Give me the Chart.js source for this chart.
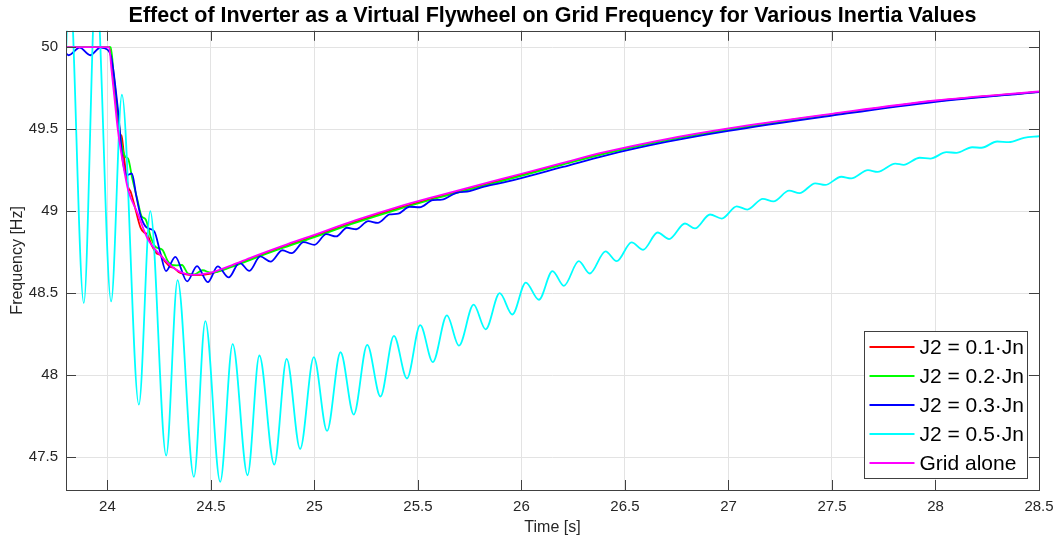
<!DOCTYPE html>
<html lang="en">
<head>
<meta charset="UTF-8">
<title>Virtual Flywheel - Grid Frequency</title>
<script src="https://cdn.jsdelivr.net/npm/chart.js"></script>
<style>
  html, body { margin: 0; padding: 0; background: #fff; }
  #wrap { width: 1057px; height: 539px; }
</style>
</head>
<body>
<div id="wrap"><canvas id="freqChart" width="1057" height="539"></canvas></div>
<script>
// Simulated grid frequency after the load step, one run per inertia value
const tJ01 = [23.8, 24.0, 24.01, 24.03, 24.05, 24.058, 24.068, 24.085, 24.1, 24.112, 24.13, 24.16, 24.178, 24.192, 24.215, 24.24, 24.255, 24.28, 24.305, 24.32, 24.35, 24.38, 24.42, 24.5, 24.6, 24.7, 24.85, 25.0, 25.2, 25.4, 25.6, 25.9, 26.2, 26.4, 26.7, 27.0, 27.5, 28.0, 28.5];
const fJ01 = [50, 50, 50, 49.78, 49.55, 49.47, 49.46, 49.28, 49.15, 49.12, 49.04, 48.90, 48.87, 48.86, 48.79, 48.74, 48.735, 48.69, 48.66, 48.655, 48.625, 48.615, 48.61, 48.62, 48.665, 48.714, 48.783, 48.848, 48.937, 49.017, 49.088, 49.188, 49.289, 49.354, 49.435, 49.5, 49.59, 49.672, 49.728];

const tJ02 = [23.8, 24.0, 24.016, 24.03, 24.05, 24.07, 24.088, 24.1, 24.12, 24.145, 24.165, 24.185, 24.21, 24.235, 24.265, 24.29, 24.31, 24.335, 24.36, 24.39, 24.42, 24.46, 24.5, 24.6, 24.7, 24.85, 25.0, 25.2, 25.4, 25.6, 25.9, 26.2, 26.4, 26.7, 27.0, 27.5, 28.0, 28.5];
const fJ02 = [50, 50, 50, 49.84, 49.6, 49.4, 49.33, 49.32, 49.2, 49.07, 48.97, 48.95, 48.84, 48.78, 48.765, 48.7, 48.672, 48.67, 48.672, 48.62, 48.615, 48.64, 48.625, 48.66, 48.708, 48.777, 48.842, 48.93, 49.01, 49.082, 49.182, 49.284, 49.35, 49.432, 49.498, 49.589, 49.671, 49.728];

const tJ03 = [23.8, 23.813, 23.866, 23.917, 23.966, 24.0, 24.02, 24.05, 24.075, 24.095, 24.118, 24.14, 24.161, 24.19, 24.226, 24.255, 24.283, 24.328, 24.385, 24.433, 24.485, 24.533, 24.586, 24.638, 24.686, 24.738, 24.788, 24.845, 24.89, 24.948, 25.0, 25.057, 25.105, 25.157, 25.202, 25.26, 25.306, 25.363, 25.405, 25.46, 25.508, 25.572, 25.615, 25.686, 25.75, 25.82, 25.93, 26.2, 26.4, 26.7, 27.0, 27.5, 28.0, 28.5];
const fJ03 = [49.962, 49.951, 49.997, 49.951, 49.998, 49.985, 49.93, 49.63, 49.30, 49.22, 49.23, 49.09, 48.97, 48.9, 48.878, 48.75, 48.635, 48.722, 48.572, 48.665, 48.567, 48.663, 48.596, 48.687, 48.636, 48.724, 48.692, 48.762, 48.744, 48.811, 48.795, 48.86, 48.846, 48.899, 48.89, 48.939, 48.929, 48.98, 48.985, 49.027, 49.024, 49.067, 49.07, 49.112, 49.122, 49.15, 49.18, 49.27, 49.338, 49.422, 49.49, 49.583, 49.667, 49.726];

const tJ05 = [23.8, 23.815, 23.886, 23.945, 24.018, 24.070, 24.152, 24.207, 24.284, 24.339, 24.418, 24.473, 24.545, 24.605, 24.677, 24.734, 24.806, 24.866, 24.931, 24.997, 25.061, 25.126, 25.190, 25.255, 25.319, 25.384, 25.447, 25.511, 25.572, 25.640, 25.698, 25.769, 25.827, 25.895, 25.956, 26.021, 26.084, 26.150, 26.205, 26.277, 26.330, 26.406, 26.460, 26.532, 26.588, 26.658, 26.713, 26.790, 26.838, 26.911, 26.968, 27.040, 27.091, 27.166, 27.217, 27.293, 27.343, 27.419, 27.467, 27.545, 27.593, 27.674, 27.720, 27.806, 27.846, 27.924, 27.975, 28.053, 28.101, 28.177, 28.222, 28.298, 28.354, 28.427, 28.5];
const fJ05 = [49.95, 50.45, 48.44, 50.40, 48.45, 49.71, 47.82, 49.00, 47.51, 48.58, 47.38, 48.33, 47.35, 48.19, 47.39, 48.12, 47.455, 48.10, 47.55, 48.11, 47.66, 48.14, 47.76, 48.185, 47.87, 48.24, 47.98, 48.305, 48.08, 48.365, 48.18, 48.43, 48.28, 48.50, 48.37, 48.565, 48.46, 48.635, 48.545, 48.695, 48.62, 48.755, 48.695, 48.81, 48.765, 48.87, 48.83, 48.925, 48.895, 48.98, 48.955, 49.03, 49.01, 49.075, 49.06, 49.125, 49.11, 49.17, 49.16, 49.21, 49.20, 49.25, 49.24, 49.29, 49.283, 49.326, 49.321, 49.36, 49.356, 49.39, 49.387, 49.425, 49.421, 49.447, 49.457];

const tGrid = [23.8, 24.0, 24.008, 24.02, 24.035, 24.05, 24.07, 24.1, 24.145, 24.195, 24.25, 24.33, 24.42, 24.5, 24.6, 24.7, 24.85, 25.0, 25.2, 25.4, 25.6, 25.9, 26.2, 26.4, 26.7, 27.0, 27.5, 28.0, 28.5];
const fGrid = [50, 50, 50, 49.86, 49.68, 49.5, 49.33, 49.13, 48.99, 48.83, 48.74, 48.645, 48.612, 48.625, 48.67, 48.72, 48.79, 48.856, 48.945, 49.025, 49.095, 49.195, 49.295, 49.36, 49.44, 49.505, 49.594, 49.675, 49.73];

const seriesLabels = ['J2 = 0.1·Jn', 'J2 = 0.2·Jn', 'J2 = 0.3·Jn', 'J2 = 0.5·Jn', 'Grid alone'];
const seriesColors = ['#ff0000', '#00ff00', '#0000ff', '#00ffff', '#ff00ff'];
const seriesTimes = [tJ01, tJ02, tJ03, tJ05, tGrid];
const seriesFreqs = [fJ01, fJ02, fJ03, fJ05, fGrid];

const axisColor = '#404040';
const textColor = '#262626';

Chart.defaults.font.family = "'Liberation Sans', Arial, Helvetica, sans-serif";

// 50.0 -> "50", 24.50 -> "24.5"
const plainNumber = v => String(Number(v.toFixed(2)));

// axes box with inward ticks on all four sides, then the boxed legend
const axesFrame = {
    id: 'axesFrame',
    afterDatasetsDraw(chart) {
        const { ctx, chartArea: a, scales } = chart;
        const len = 10;
        ctx.save();
        ctx.strokeStyle = axisColor;
        ctx.lineWidth = 1;
        ctx.beginPath();
        scales.x.ticks.forEach(t => {
            const px = Math.round(scales.x.getPixelForValue(t.value)) + 0.5;
            ctx.moveTo(px, a.bottom); ctx.lineTo(px, a.bottom - len);
            ctx.moveTo(px, a.top); ctx.lineTo(px, a.top + len);
        });
        scales.y.ticks.forEach(t => {
            const py = Math.round(scales.y.getPixelForValue(t.value)) + 0.5;
            ctx.moveTo(a.left, py); ctx.lineTo(a.left + len, py);
            ctx.moveTo(a.right, py); ctx.lineTo(a.right - len, py);
        });
        ctx.stroke();
        ctx.strokeRect(Math.round(a.left) + 0.5, Math.round(a.top) + 0.5,
            Math.round(a.right - a.left), Math.round(a.bottom - a.top));

        // legend, south-east corner
        const rowH = 29, lineLen = 45;
        ctx.font = "21px 'Liberation Sans', Arial, sans-serif";
        const textW = Math.max(...seriesLabels.map(s => ctx.measureText(s).width));
        const w = Math.round(5 + lineLen + 5 + textW + 4);
        const h = rowH * seriesLabels.length + 2;
        const x0 = Math.round(a.right - 12 - w) + 0.5;
        const y0 = Math.round(a.bottom - 12 - h) + 0.5;
        ctx.fillStyle = '#fff';
        ctx.fillRect(x0, y0, w, h);
        ctx.strokeStyle = axisColor;
        ctx.strokeRect(x0, y0, w, h);
        ctx.textBaseline = 'middle';
        seriesLabels.forEach((lab, i) => {
            const cy = y0 + 1 + rowH * i + rowH / 2;
            ctx.strokeStyle = seriesColors[i];
            ctx.lineWidth = 1.8;
            ctx.beginPath();
            ctx.moveTo(x0 + 5, cy); ctx.lineTo(x0 + 5 + lineLen, cy);
            ctx.stroke();
            ctx.fillStyle = '#000';
            ctx.fillText(lab, x0 + 5 + lineLen + 5, cy + 1);
        });
        ctx.restore();
    }
};

new Chart(document.getElementById('freqChart'), {
    type: 'line',
    data: {
        datasets: seriesLabels.map((label, i) => ({
            label,
            data: seriesTimes[i].map((t, k) => ({ x: t, y: seriesFreqs[i][k] })),
            borderColor: seriesColors[i],
            // later runs sit on top, grid-only trace topmost
            order: seriesLabels.length - i
        }))
    },
    options: {
        responsive: false,
        animation: false,
        layout: { padding: { right: 18 } },
        elements: {
            point: { radius: 0 },
            line: { borderWidth: 1.8, cubicInterpolationMode: 'monotone', fill: false }
        },
        scales: {
            x: {
                type: 'linear',
                min: 23.8,
                max: 28.5,
                // fixed band under the axes; let the last tick label hang into the margin
                afterFit: s => { s.height = 49; s.paddingRight = 0; s.paddingLeft = 0; },
                border: { display: false },
                grid: { color: '#e3e3e3', drawTicks: false },
                ticks: { stepSize: 0.5, includeBounds: false, autoSkip: false, maxRotation: 0,
                         padding: 8, color: textColor, font: { size: 15 }, callback: plainNumber },
                title: { display: true, text: 'Time [s]', color: textColor,
                         font: { size: 16 }, padding: { top: 2, bottom: 2 } }
            },
            y: {
                min: 47.3,
                max: 50.1,
                afterFit: s => { s.width = 66; },
                border: { display: false },
                grid: { color: '#e3e3e3', drawTicks: false },
                ticks: { stepSize: 0.5, includeBounds: false, autoSkip: false,
                         padding: 8, color: textColor, font: { size: 15 }, callback: plainNumber },
                title: { display: true, text: 'Frequency [Hz]', color: textColor,
                         font: { size: 16 }, padding: { top: 8, bottom: 8 } }
            }
        },
        plugins: {
            legend: { display: false },
            tooltip: { enabled: false },
            title: {
                display: true,
                fullSize: false,
                text: 'Effect of Inverter as a Virtual Flywheel on Grid Frequency for Various Inertia Values',
                color: '#000',
                font: { size: 21.5, weight: 'bold' },
                padding: { top: 3, bottom: 2 }
            }
        }
    },
    plugins: [axesFrame]
});
</script>
</body>
</html>
